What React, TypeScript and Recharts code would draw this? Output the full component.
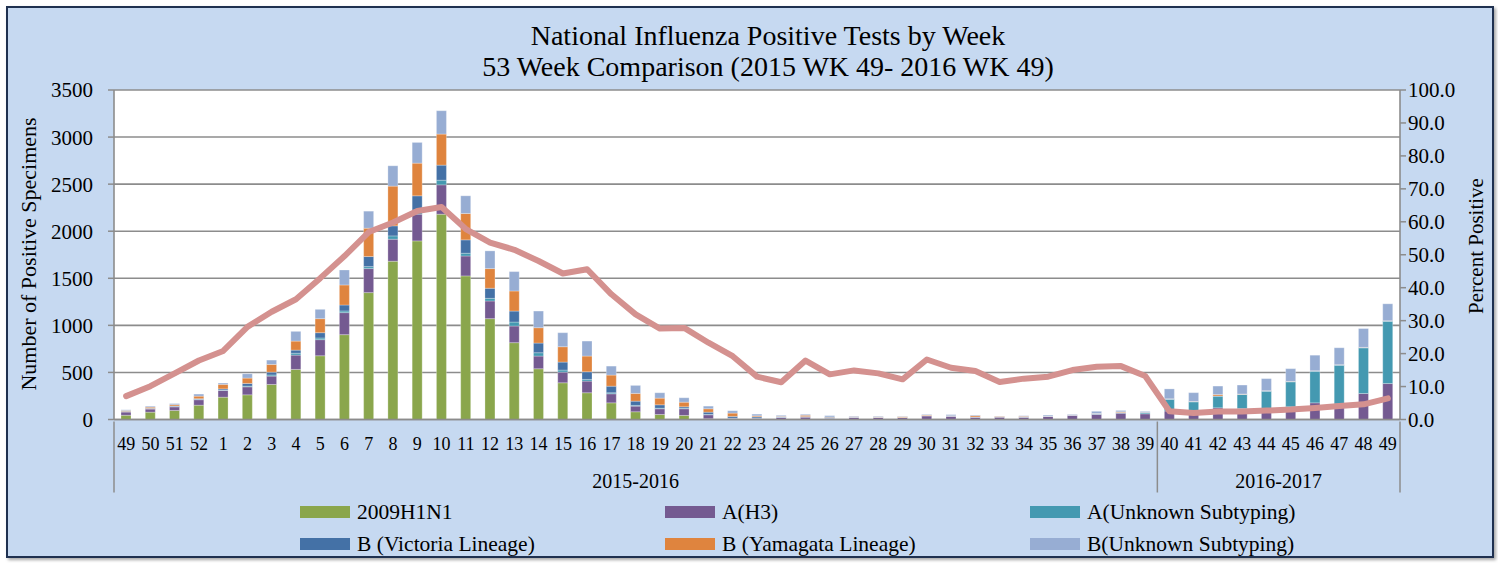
import { Bar, CartesianGrid, ComposedChart, Legend, Line, XAxis, YAxis } from "recharts";

const weeks = [
  "49", "50", "51", "52", "1", "2", "3", "4", "5", "6", "7", "8", "9", "10", "11", "12", "13", "14",
  "15", "16", "17", "18", "19", "20", "21", "22", "23", "24", "25", "26", "27", "28", "29", "30", "31",
  "32", "33", "34", "35", "36", "37", "38", "39", "40", "41", "42", "43", "44", "45", "46", "47", "48", "49",
];

const h1n1 = [
  45, 78, 96, 152, 237, 262, 372, 532, 677, 901, 1348, 1681, 1897, 2181, 1525, 1071, 816, 539,
  390, 284, 177, 82, 53, 43, 8, 3, 2, 1, 1, 1, 1, 0, 0, 1, 1,
  0, 0, 0, 0, 0, 0, 0, 0, 0, 0, 0, 0, 0, 0, 0, 0, 0, 0,
];
const h3 = [
  35, 34, 39, 58, 72, 85, 89, 152, 171, 234, 255, 234, 284, 312, 212, 188, 177, 135,
  113, 124, 96, 60, 61, 71, 42, 10, 12, 20, 25, 12, 22, 22, 20, 38, 35,
  25, 25, 25, 35, 46, 55, 67, 60, 90, 60, 124, 117, 88, 135, 177, 165, 276, 382,
];
const aUnknown = [
  2, 2, 2, 3, 4, 8, 12, 20, 18, 18, 21, 35, 42, 49, 29, 28, 42, 35,
  22, 18, 11, 8, 6, 6, 4, 2, 2, 1, 1, 1, 1, 1, 1, 1, 1,
  1, 1, 1, 1, 1, 5, 5, 12, 125, 128, 124, 149, 213, 265, 336, 412, 485, 662,
];
const bVictoria = [
  5, 5, 6, 8, 12, 28, 30, 33, 56, 63, 107, 107, 153, 160, 142, 107, 117, 103,
  85, 81, 70, 45, 36, 15, 24, 18, 13, 5, 4, 10, 2, 2, 1, 2, 1,
  1, 0, 1, 1, 1, 2, 2, 6, 3, 2, 2, 3, 3, 3, 3, 3, 3, 3,
];
const bYamagata = [
  8, 12, 14, 27, 48, 57, 82, 96, 149, 213, 301, 422, 347, 330, 280, 209, 213, 163,
  163, 167, 118, 82, 71, 49, 36, 35, 10, 6, 14, 3, 4, 4, 8, 6, 2,
  14, 7, 7, 1, 1, 2, 8, 1, 2, 2, 15, 2, 2, 2, 2, 2, 2, 2,
];
const bUnknown = [
  8, 10, 12, 22, 14, 46, 46, 103, 99, 159, 181, 216, 220, 248, 188, 188, 206, 177,
  149, 159, 95, 85, 57, 47, 28, 25, 18, 11, 10, 14, 6, 6, 4, 6, 12,
  7, 3, 6, 10, 6, 23, 14, 7, 105, 93, 90, 95, 128, 135, 165, 180, 200, 180,
];
const pctPositive = [
  7.1, 10.1, 14.0, 17.9, 20.8, 28.1, 32.7, 36.5, 42.9, 49.6, 56.9, 59.8, 63.3, 64.5, 57.8, 53.7, 51.5, 48.1,
  44.3, 45.6, 38.0, 31.9, 27.6, 27.8, 23.3, 19.2, 13.0, 11.3, 17.9, 13.7, 14.9, 14.0, 12.2, 18.2, 15.7,
  14.7, 11.4, 12.4, 13.0, 15.0, 16.0, 16.2, 13.2, 2.5, 2.0, 2.4, 2.4, 2.7, 3.0, 3.5, 4.1, 4.6, 6.4,
];

const leftTicks = [0, 500, 1000, 1500, 2000, 2500, 3000, 3500];
const rightTicks = [0, 10, 20, 30, 40, 50, 60, 70, 80, 90, 100];

const seasons = [
  { label: "2015-2016", first: 0, last: 42 },
  { label: "2016-2017", first: 43, last: 52 },
];

const series = [
  { key: "h1n1", name: "2009H1N1", color: "#8AA64C" },
  { key: "h3", name: "A(H3)", color: "#745A91" },
  { key: "aUnknown", name: "A(Unknown Subtyping)", color: "#4499B1" },
  { key: "bVictoria", name: "B (Victoria Lineage)", color: "#4471A6" },
  { key: "bYamagata", name: "B (Yamagata Lineage)", color: "#DF843E" },
  { key: "bUnknown", name: "B(Unknown Subtyping)", color: "#97ADD3" },
];

const data = weeks.map((week, i) => ({
  week,
  h1n1: h1n1[i],
  h3: h3[i],
  aUnknown: aUnknown[i],
  bVictoria: bVictoria[i],
  bYamagata: bYamagata[i],
  bUnknown: bUnknown[i],
  pct: pctPositive[i],
}));

const W = 1484;
const H = 548;
const FONT = "'Liberation Serif', serif";
const PLOT_LEFT = 106;
const PLOT_RIGHT = 1392;
const BAND = (PLOT_RIGHT - PLOT_LEFT) / weeks.length;
const AXIS_GREY = "#8C8C8C";

function WeekTick(props: any) {
  const { x, y, index, payload } = props;
  const parts = [];
  parts.push(
    <text key="w" x={x} y={y + 28} textAnchor="middle" fontSize={18} fontFamily={FONT} fill="#000">
      {payload.value}
    </text>
  );
  seasons.forEach((s) => {
    if (index === s.first) {
      parts.push(<line key={"l" + s.label} x1={x - BAND / 2} x2={x - BAND / 2} y1={y} y2={y + 71} stroke={AXIS_GREY} strokeWidth={1.5} />);
    }
    if (index === s.last && s.last === weeks.length - 1) {
      parts.push(<line key={"r" + s.label} x1={x + BAND / 2} x2={x + BAND / 2} y1={y} y2={y + 71} stroke={AXIS_GREY} strokeWidth={1.5} />);
    }
    const mid = (s.first + s.last) / 2;
    if (index === Math.floor(mid)) {
      const cx = x + (mid - Math.floor(mid)) * BAND;
      parts.push(
        <text key={"s" + s.label} x={cx} y={y + 66} textAnchor="middle" fontSize={20} fontFamily={FONT} fill="#000">
          {s.label}
        </text>
      );
    }
  });
  return <g>{parts}</g>;
}

function VerticalTitle({ cx, cy, text, size }: { cx: number; cy: number; text: string; size: number }) {
  return (
    <text x={cx} y={cy} transform={`rotate(-90 ${cx} ${cy})`} textAnchor="middle" dominantBaseline="central" fontSize={size} fontFamily={FONT} fill="#000">
      {text}
    </text>
  );
}

function LegendBox() {
  return (
    <div style={{ position: "relative", width: W, height: 60, fontFamily: FONT, fontSize: 21.5, color: "#000" }}>
      {series.map((s, i) => {
        const col = i % 3;
        const row = Math.floor(i / 3);
        return (
          <div key={s.key} style={{ position: "absolute", left: 292 + col * 365, top: row * 32 + 4, height: 24, display: "flex", alignItems: "center", whiteSpace: "nowrap" }}>
            <span style={{ display: "inline-block", width: 50, height: 12, background: s.color, marginRight: 7 }} />
            <span>{s.name}</span>
          </div>
        );
      })}
    </div>
  );
}

export default function App() {
  return (
    <div
      style={{
        position: "absolute",
        left: 6,
        top: 6,
        width: W,
        height: H,
        background: "#C6D9F1",
        border: "2px solid #1F3150",
        boxShadow: "2px 2px 3px rgba(0,0,0,0.35)",
      }}
    >
      <div style={{ position: "absolute", left: 36, top: 12, width: W - 36, textAlign: "center", fontFamily: FONT, fontSize: 28, lineHeight: "31px", color: "#000" }}>
        <div>National Influenza Positive Tests by Week</div>
        <div>53 Week Comparison (2015 WK 49- 2016 WK 49)</div>
      </div>
      <ComposedChart width={W} height={H} data={data} margin={{ top: 82, right: 0, bottom: 0, left: 0 }} barSize={10}>
        <CartesianGrid yAxisId="left" vertical={false} stroke={AXIS_GREY} strokeWidth={1.6} fill="#FFFFFF" />
        <XAxis
          dataKey="week"
          interval={0}
          height={76.5}
          tickSize={0}
          tickLine={false}
          tick={<WeekTick />}
          axisLine={{ stroke: AXIS_GREY, strokeWidth: 1.6 }}
        />
        <YAxis
          yAxisId="left"
          width={PLOT_LEFT}
          domain={[0, 3500]}
          ticks={leftTicks}
          tickSize={6}
          tickMargin={15}
          tick={{ fontSize: 21, fontFamily: FONT, fill: "#000" }}
          tickLine={{ stroke: AXIS_GREY, strokeWidth: 1.5 }}
          axisLine={{ stroke: AXIS_GREY, strokeWidth: 1.6 }}
          label={<VerticalTitle cx={20} cy={246} size={22} text="Number of Positive Specimens" />}
        />
        <YAxis
          yAxisId="right"
          orientation="right"
          width={W - PLOT_RIGHT}
          domain={[0, 100]}
          ticks={rightTicks}
          tickFormatter={(v: number) => v.toFixed(1)}
          tickSize={6}
          tickMargin={2}
          tick={{ fontSize: 21, fontFamily: FONT, fill: "#000" }}
          tickLine={{ stroke: AXIS_GREY, strokeWidth: 1.5 }}
          axisLine={{ stroke: AXIS_GREY, strokeWidth: 1.6 }}
          label={<VerticalTitle cx={1468} cy={238} size={21} text="Percent Positive" />}
        />
        {series.map((s) => (
          <Bar
            key={s.key}
            yAxisId="left"
            dataKey={s.key}
            name={s.name}
            stackId="flu"
            fill={s.color}
            stroke="#FFFFFF"
            strokeOpacity={0.45}
            strokeWidth={0.6}
            isAnimationActive={false}
          />
        ))}
        <Line
          yAxisId="right"
          dataKey="pct"
          type="linear"
          stroke="#D4918F"
          strokeWidth={6}
          strokeLinejoin="round"
          strokeLinecap="round"
          dot={false}
          activeDot={false}
          legendType="none"
          isAnimationActive={false}
        />
        <Legend verticalAlign="bottom" height={60} wrapperStyle={{ left: 0, width: W }} content={() => <LegendBox />} />
      </ComposedChart>
    </div>
  );
}
